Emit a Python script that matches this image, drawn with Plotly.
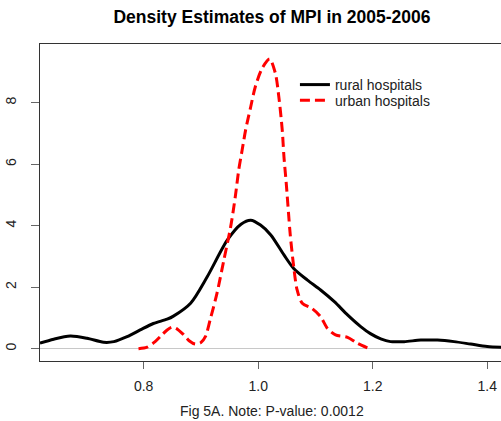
import plotly.graph_objects as go

# ---- data ----
rural_x = [0.619, 0.643, 0.672, 0.701, 0.730, 0.748, 0.771, 0.794, 0.817, 0.841,
           0.852, 0.882, 0.911, 0.946, 0.970, 0.987, 1.004, 1.022, 1.045, 1.062,
           1.086, 1.109, 1.133, 1.156, 1.179, 1.196, 1.214, 1.231, 1.255, 1.284,
           1.313, 1.342, 1.371, 1.400, 1.430]
rural_y = [0.18, 0.31, 0.41, 0.34, 0.21, 0.23, 0.39, 0.61, 0.82, 0.96,
           1.06, 1.48, 2.34, 3.53, 4.05, 4.18, 4.02, 3.70, 3.05, 2.61,
           2.23, 1.91, 1.53, 1.10, 0.72, 0.49, 0.32, 0.23, 0.23, 0.28,
           0.28, 0.23, 0.15, 0.07, 0.04]

urban_x = [0.791, 0.806, 0.820, 0.832, 0.841, 0.850, 0.860, 0.870, 0.880, 0.890,
           0.900, 0.908, 0.916, 0.928, 0.940, 0.952, 0.960, 0.966, 0.972, 0.978,
           0.987, 0.995, 1.007, 1.020, 1.030, 1.036, 1.042, 1.045, 1.049, 1.053,
           1.056, 1.062, 1.068, 1.077, 1.094, 1.109, 1.121, 1.135, 1.156, 1.173,
           1.193]
urban_y = [0.00, 0.05, 0.23, 0.45, 0.61, 0.70, 0.62, 0.45, 0.25, 0.15,
           0.20, 0.40, 0.93, 1.80, 2.88, 3.97, 4.94, 5.81, 6.46, 7.11,
           7.87, 8.52, 9.12, 9.42, 8.96, 8.20, 7.11, 6.24, 5.38, 4.40,
           3.70, 2.67, 1.91, 1.48, 1.31, 1.04, 0.66, 0.45, 0.37, 0.18,
           0.01]

series_names = ["rural hospitals", "urban hospitals"]
x_ticks = [0.8, 1.0, 1.2, 1.4]
x_tick_labels = ["0.8", "1.0", "1.2", "1.4"]
y_ticks = [0, 2, 4, 6, 8]
y_tick_labels = ["0", "2", "4", "6", "8"]
title_text = "<b>Density Estimates of MPI in 2005-2006</b>"
note_text = "Fig 5A. Note: P-value: 0.0012"

FONT = "Liberation Sans, Arial, sans-serif"

fig = go.Figure()
fig.add_trace(go.Scatter(x=rural_x, y=rural_y, mode="lines", name=series_names[0],
                         line=dict(color="black", width=3, shape="spline", smoothing=0.8),
                         legend="legend"))
fig.add_trace(go.Scatter(x=urban_x, y=urban_y, mode="lines", name=series_names[1],
                         line=dict(color="#ff0000", width=3, shape="spline", smoothing=0.8,
                                   dash="10px,5px"),
                         legend="legend2"))

leg_common = dict(xanchor="left", yanchor="middle", bgcolor="rgba(0,0,0,0)",
                  itemwidth=30, font=dict(family=FONT, size=14, color="#222"))

fig.update_layout(
    width=501, height=421,
    margin=dict(l=40, r=0, t=44, b=60),
    paper_bgcolor="white", plot_bgcolor="white",
    font=dict(family=FONT, size=14, color="#222"),
    title=dict(text=title_text, x=272 / 501, xanchor="center", xref="container",
               y=1 - 17 / 421, yanchor="middle", yref="container",
               font=dict(family=FONT, size=17.5, color="black")),
    showlegend=True,
    legend=dict(x=0.553, y=(361 - 85) / 317, **leg_common),
    legend2=dict(x=0.553, y=(361 - 100.7) / 317, **leg_common),
    xaxis=dict(range=[0.619, 1.424], tickvals=x_ticks, ticktext=x_tick_labels,
               showgrid=False, zeroline=False, showline=True, mirror=True,
               linecolor="#333", linewidth=1, ticks="outside", ticklen=7,
               tickcolor="#666", ticklabelstandoff=5,
               tickfont=dict(family=FONT, size=14, color="#222")),
    yaxis=dict(range=[-0.40, 9.91], tickvals=y_ticks, ticktext=y_tick_labels,
               showgrid=False, zeroline=True, zerolinecolor="#c8c8c8", zerolinewidth=1,
               showline=True, mirror=False, linecolor="#333", linewidth=1,
               ticks="outside", ticklen=8, tickcolor="#666", tickangle=-90,
               ticklabelstandoff=9,
               tickfont=dict(family=FONT, size=14, color="#222")),
    annotations=[dict(text=note_text, xref="paper", yref="paper", x=(272 - 40) / 461, y=0,
                      xanchor="center", yanchor="middle", yshift=-50, showarrow=False,
                      font=dict(family=FONT, size=14, color="#222"))],
)

fig.write_html("out.html")
